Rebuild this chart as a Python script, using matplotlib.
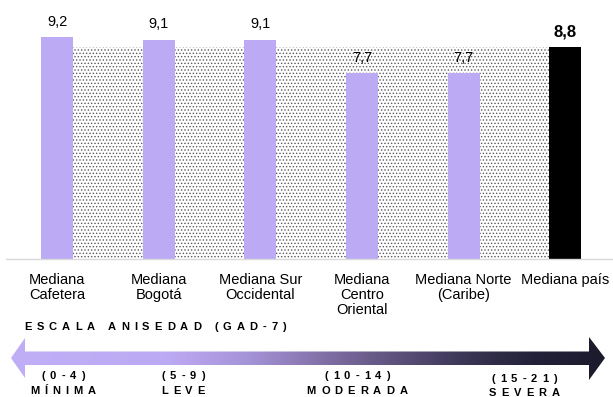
import matplotlib
matplotlib.use("Agg")
import matplotlib.pyplot as plt
import numpy as np
from matplotlib import font_manager, ft2font
from matplotlib.colors import LinearSegmentedColormap
from matplotlib.font_manager import FontProperties
from matplotlib.patches import Polygon

plt.rcParams["font.family"] = ["Liberation Sans", "DejaVu Sans"]
plt.rcParams["hatch.linewidth"] = 0.6

# Medianas GAD-7 por región
regiones = ["Mediana\nCafetera", "Mediana\nBogotá", "Mediana Sur\nOccidental",
            "Mediana\nCentro\nOriental", "Mediana Norte\n(Caribe)", "Mediana país"]
medianas = [9.2, 9.1, 9.1, 7.7, 7.7, 8.8]

# Escala de ansiedad
rangos = ["(0-4)", "(5-9)", "(10-14)", "(15-21)"]
niveles = ["MÍNIMA", "LEVE", "MODERADA", "SEVERA"]

W, H = 613, 397
fig = plt.figure(figsize=(W / 100, H / 100), dpi=100)
ax = fig.add_axes([6 / W, (H - 259) / H, 607 / W, 259 / H])

x = np.arange(len(medianas))
pais = medianas[-1]
colores = ["#bcaaf5"] * (len(medianas) - 1) + ["#000000"]

# fondo punteado hasta el nivel de la mediana nacional
ax.fill_between([x[0], x[-1]], 0, pais, facecolor="white", edgecolor="#5a5a5a",
                hatch=".....", linewidth=0, zorder=1)
ax.bar(x, medianas, width=0.315, color=colores, zorder=2)

for i, v in enumerate(medianas):
    es_pais = i == len(medianas) - 1
    ax.annotate(f"{v:.1f}".replace(".", ","), (x[i], v), xytext=(0, 11),
                textcoords="offset points", ha="center", va="center",
                fontsize=12 if es_pais else 10.5,
                fontweight="bold" if es_pais else "normal")

ax.set_xlim(-0.502, 5.47)
ax.set_ylim(0, 10.75)
ax.set_xticks(x, regiones, fontsize=10.5, linespacing=1.1)
ax.tick_params(axis="x", length=0, pad=10)
ax.set_yticks([])
for side in ["top", "right", "left"]:
    ax.spines[side].set_visible(False)
ax.spines["bottom"].set_color("#d9d9d9")
ax.spines["bottom"].set_linewidth(1)

# capa en píxeles para la flecha y los textos de la escala
ov = fig.add_axes([0, 0, 1, 1], facecolor="none")
ov.set_xlim(0, W)
ov.set_ylim(H, 0)
ov.axis("off")

flecha = [(11, 358), (25, 338), (25, 351.5), (589, 351.5), (589, 337), (605, 358),
          (589, 380), (589, 365), (25, 365), (25, 378)]
cmap = LinearSegmentedColormap.from_list("escala", [
    (0.0, "#c0aef7"), (0.26, "#bdaaf4"), (0.40, "#a593d8"), (0.54, "#7c6ca0"),
    (0.66, "#5a4f78"), (0.78, "#383350"), (0.88, "#23213a"), (1.0, "#1c1b2c")])
grad = ov.imshow(np.linspace(0, 1, 600)[None, :], cmap=cmap, aspect="auto",
                 extent=(11, 605, 380, 337), interpolation="bilinear")
grad.set_clip_path(Polygon(flecha, closed=True, transform=ov.transData))

fp = FontProperties(family="Liberation Sans", weight="bold")
ft = ft2font.FT2Font(font_manager.findfont(fp))


def texto_espaciado(cx, cy, s, size=8, track=5.0, ha="center"):
    ft.set_size(size, 100)
    adv = []
    for ch in s:
        g = ft.load_char(ord(ch))
        adv.append(g.linearHoriAdvance / 65536)
    total = sum(adv) + track * (len(s) - 1)
    x0 = cx - total / 2 if ha == "center" else cx
    for ch, a in zip(s, adv):
        ov.text(x0, cy, ch, fontsize=size, fontweight="bold", ha="left", va="center")
        x0 += a + track


texto_espaciado(24, 327, "ESCALA ANISEDAD (GAD-7)", ha="left")

centros = [63, 183, 357, 524]
y_rango = [376, 376, 376, 379]
y_nivel = [391, 391, 391, 393]
for cx, r, n, yr, yn in zip(centros, rangos, niveles, y_rango, y_nivel):
    texto_espaciado(cx, yr, r)
    texto_espaciado(cx, yn, n)

fig.savefig("out.png", dpi=100)
